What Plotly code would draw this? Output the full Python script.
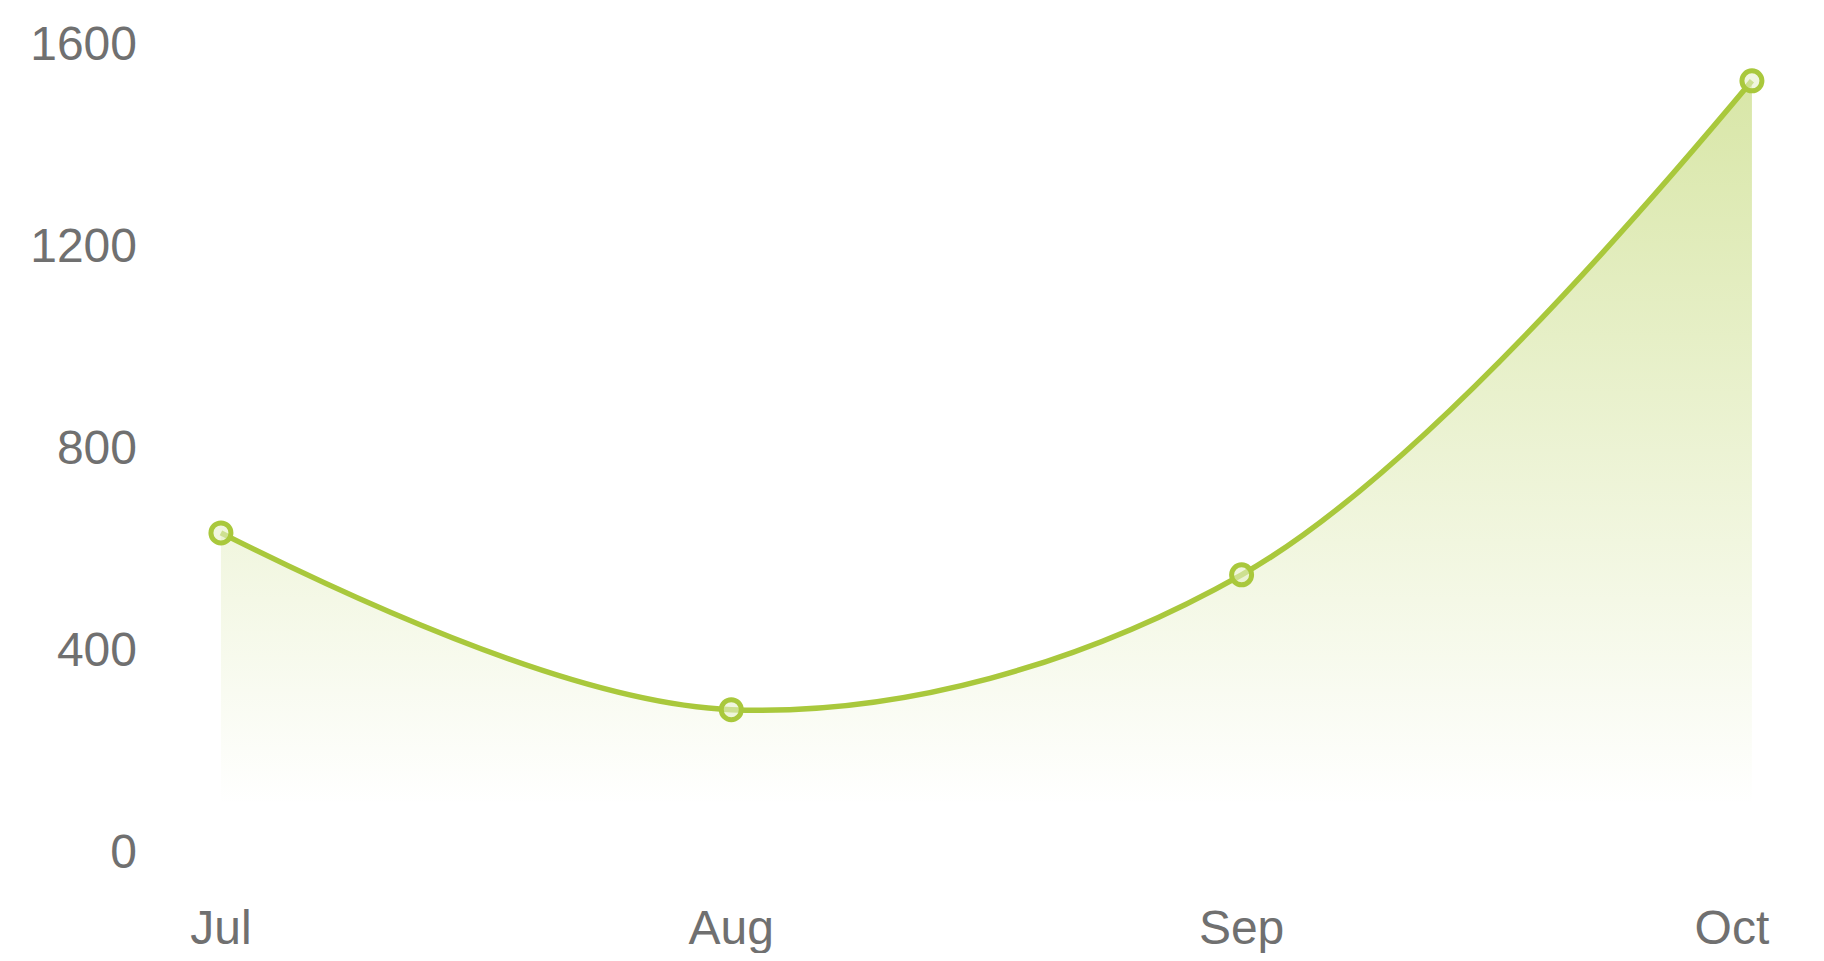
import plotly.graph_objects as go

months = ["Jul", "Aug", "Sep", "Oct"]
values = [630, 280, 547, 1525]
y_ticks = [0, 400, 800, 1200, 1600]
# last label is nudged left (kept inside the chart edge, as in the reference)
x_labels = ["Jul", "Aug", "Sep", "Oct\u00a0\u00a0\u00a0"]

line_color = "#a9c83c"

fig = go.Figure()
fig.add_trace(go.Scatter(
    x=months, y=values,
    mode="lines+markers",
    line=dict(color=line_color, width=5.5, shape="spline", smoothing=1.0),
    marker=dict(symbol="circle", size=20, color="rgba(230,240,200,0.6)",
                line=dict(color=line_color, width=5)),
    fill="tozeroy",
    fillgradient=dict(type="vertical",
                      colorscale=[[0, "rgba(169,200,60,0)"], [1, "rgba(169,200,60,0.45)"]],
                      start=90, stop=1525),
    hoverinfo="x+y",
    showlegend=False,
))

fig.update_layout(
    width=1808, height=945,
    margin=dict(l=142, r=36, t=22, b=58),
    plot_bgcolor="white", paper_bgcolor="white",
    font=dict(family="Liberation Sans, Arial, sans-serif", size=50, color="#707070"),
    xaxis=dict(type="category", range=[-0.139, 3.055], showgrid=False, zeroline=False,
               showline=False, ticks="", tickfont=dict(size=48, color="#707070"),
               tickvals=months, ticktext=x_labels,
               ticklabelstandoff=0, automargin=False),
    yaxis=dict(range=[-87, 1625.7], tickvals=y_ticks, ticktext=[str(v) for v in y_ticks],
               showgrid=False, zeroline=False, showline=False, ticks="",
               tickfont=dict(size=48, color="#707070"), ticklabelstandoff=12,
               automargin=False),
)

fig.write_html("out.html")
